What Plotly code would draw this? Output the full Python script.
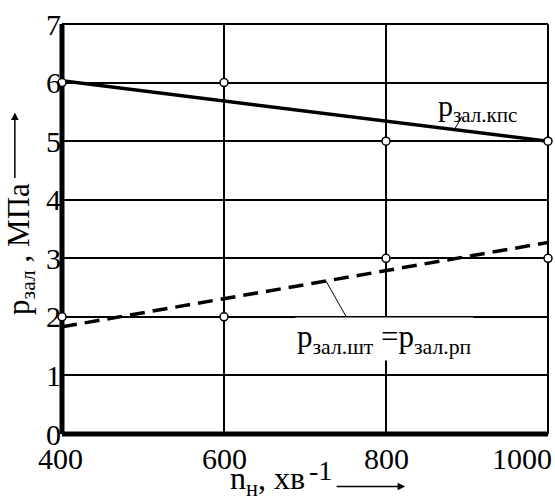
import plotly.graph_objects as go

# Data
n_points = [400, 600, 800, 1000]
p_kps_points = [6, 6, 5, 5]
p_sht_points = [2, 2, 3, 3]

n_fit = [400, 1000]
p_kps_fit = [6.03, 5.0]
p_sht_fit = [1.83, 3.27]

x_ticks = [400, 600, 800, 1000]
y_ticks = [0, 1, 2, 3, 4, 5, 6, 7]

FONT = "Liberation Serif, Times New Roman, serif"

fig = go.Figure()

fig.add_trace(go.Scatter(x=n_fit, y=p_kps_fit, mode="lines",
                         line=dict(color="black", width=3.5), hoverinfo="skip"))
fig.add_trace(go.Scatter(x=n_fit, y=p_sht_fit, mode="lines",
                         line=dict(color="black", width=3.5, dash="15px,8px"), hoverinfo="skip"))
fig.add_trace(go.Scatter(x=n_points, y=p_kps_points, mode="markers", cliponaxis=False,
                         marker=dict(symbol="circle", size=8, color="white",
                                     line=dict(color="black", width=1.5))))
fig.add_trace(go.Scatter(x=n_points, y=p_sht_points, mode="markers", cliponaxis=False,
                         marker=dict(symbol="circle", size=8, color="white",
                                     line=dict(color="black", width=1.5))))

fig.update_xaxes(range=[400, 1000], tickvals=x_ticks, showticklabels=False,
                 showgrid=True, gridcolor="black", gridwidth=1.5, zeroline=False,
                 showline=False, ticks="")
fig.update_yaxes(range=[0, 7], tickvals=y_ticks, ticktext=[str(v) for v in y_ticks],
                 showticklabels=True, tickfont=dict(family=FONT, size=30, color="black"),
                 ticklabelstandoff=0, ticklabeloverflow="allow",
                 showgrid=True, gridcolor="black", gridwidth=1.5, zeroline=False,
                 showline=False, ticks="")

shapes = [
    dict(type="line", xref="paper", yref="paper", x0=0, x1=1, y0=1, y1=1,
         line=dict(color="black", width=2), layer="below"),
    dict(type="line", xref="paper", yref="paper", x0=1, x1=1, y0=0, y1=1,
         line=dict(color="black", width=2), layer="below"),
    dict(type="line", xref="paper", yref="paper", x0=0, x1=1, y0=0, y1=0,
         line=dict(color="black", width=5), layer="below"),
    dict(type="line", xref="paper", yref="paper", x0=0, x1=0, y0=0, y1=1,
         line=dict(color="black", width=5), layer="below"),
]

annotations = []
# x tick labels
for v in x_ticks:
    if v == 1000:
        annotations.append(dict(x=v, y=0, xref="x", yref="paper", text=str(v),
                                showarrow=False, xanchor="right", yanchor="top",
                                xshift=6, yshift=-6,
                                font=dict(family=FONT, size=30, color="black")))
    else:
        annotations.append(dict(x=v, y=0, xref="x", yref="paper", text=str(v),
                                showarrow=False, xanchor="center", yanchor="top",
                                xshift=-2 if v == 400 else 0, yshift=-6,
                                font=dict(family=FONT, size=30, color="black")))

# x-axis title
annotations.append(dict(x=0.342, y=-0.168, xref="paper", yref="paper",
                        text="n<sub>н</sub>, хв", showarrow=False,
                        xanchor="left", yanchor="bottom",
                        font=dict(family=FONT, size=32, color="black")))
annotations.append(dict(x=0.504, y=-0.088, xref="paper", yref="paper",
                        text="-1", showarrow=False, xanchor="left", yanchor="middle",
                        font=dict(family=FONT, size=28, color="black")))
annotations.append(dict(x=0.706, y=-0.128, xref="paper", yref="paper", text="",
                        showarrow=True, ax=-70, ay=0, arrowhead=2, arrowsize=1,
                        arrowwidth=1.5, arrowcolor="black"))

# y-axis title
annotations.append(dict(x=-0.086, y=0.452, xref="paper", yref="paper",
                        text="p<sub>зал</sub> , МПа", showarrow=False, textangle=-90,
                        xanchor="center", yanchor="middle",
                        font=dict(family=FONT, size=31, color="black")))
annotations.append(dict(x=-0.097, y=0.784, xref="paper", yref="paper", text="",
                        showarrow=True, ax=0, ay=67, arrowhead=2, arrowsize=1,
                        arrowwidth=1.5, arrowcolor="black"))

# curve labels
annotations.append(dict(x=862, y=5.57, xref="x", yref="y",
                        text="p<sub>зал.кпс</sub>", showarrow=False,
                        xanchor="left", yanchor="middle",
                        font=dict(family=FONT, size=30, color="black")))
annotations.append(dict(x=885, y=5.21, xref="x", yref="y", text="",
                        showarrow=True, ax=8, ay=-14, arrowhead=0, arrowwidth=1,
                        arrowcolor="black"))
annotations.append(dict(x=726, y=2.61, xref="x", yref="y", text="",
                        showarrow=True, ax=30, ay=53, arrowhead=0, arrowwidth=1,
                        arrowcolor="black"))
annotations.append(dict(x=688, y=1.63, xref="x", yref="y",
                        text="p<sub>зал.шт</sub> =p<sub>зал.рп</sub>", showarrow=False,
                        xanchor="left", yanchor="middle", bgcolor="white",
                        font=dict(family=FONT, size=31, color="black")))

fig.update_layout(
    width=555, height=501,
    margin=dict(l=62, r=7, t=12, b=67),
    paper_bgcolor="white", plot_bgcolor="white",
    showlegend=False,
    shapes=shapes,
    annotations=annotations,
)

fig.write_html("out.html")
